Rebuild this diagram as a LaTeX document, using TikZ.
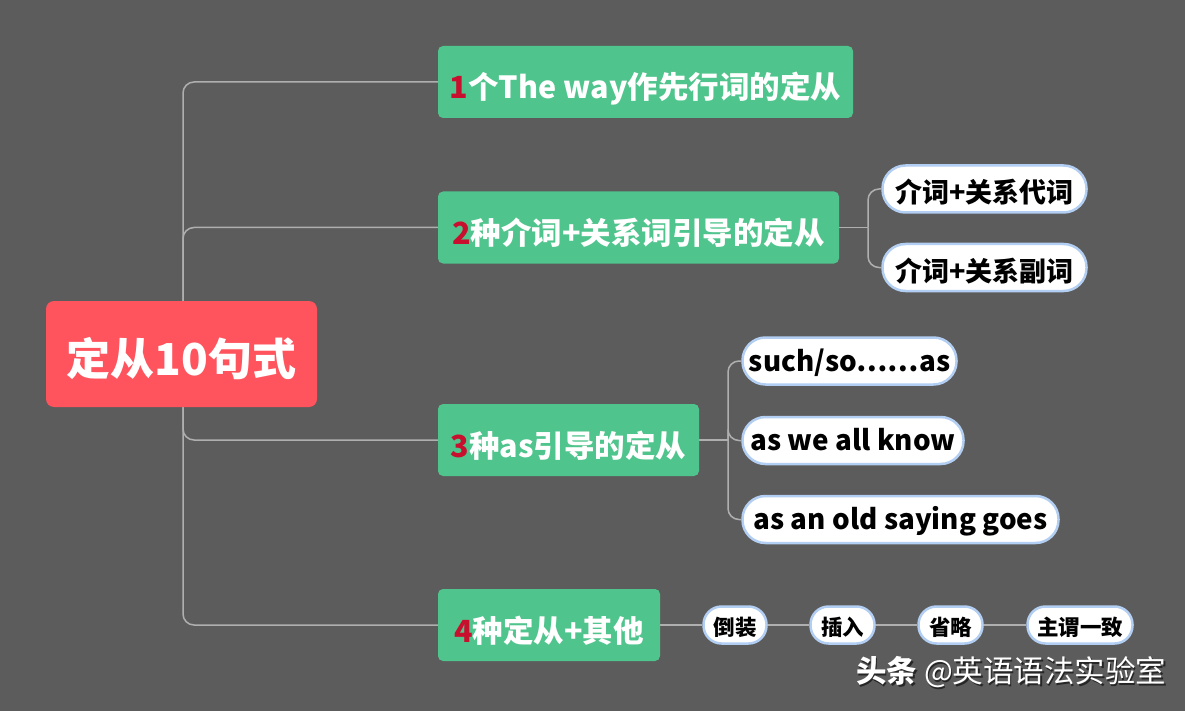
\documentclass[tikz,border=0pt]{standalone}
\usepackage{fontspec}
\setmainfont{Noto Sans CJK SC}
\usetikzlibrary{backgrounds}
\definecolor{bgc}{RGB}{92,92,92}
\definecolor{rootred}{RGB}{255,83,93}
\definecolor{boxgreen}{RGB}{80,196,141}
\definecolor{numred}{RGB}{200,16,46}
\definecolor{connc}{RGB}{175,175,175}
\definecolor{pillblue}{RGB}{178,206,242}
\tikzset{
  rootbox/.style={fill=rootred, rounded corners=8pt, text=white, font=\bfseries\fontsize{44}{44}\selectfont, minimum width=271pt, minimum height=106pt, inner sep=0pt, text height=43.4pt, text depth=0pt},
  greenbox/.style={fill=boxgreen, rounded corners=5pt, text=white, font=\bfseries\fontsize{30.5}{30}\selectfont, minimum height=72pt, inner sep=0pt, text height=34pt, text depth=0pt},
  pill/.style={fill=white, draw=pillblue, line width=2.5pt, rounded corners=23pt, text=black, font=\bfseries\fontsize{27}{27}\selectfont, minimum height=47pt, inner sep=0pt, text height=27.6pt, text depth=0pt},
  latinpill/.style={pill, font=\bfseries\fontsize{27.8}{28}\selectfont, text height=20pt},
  smallpill/.style={fill=white, draw=pillblue, line width=2.5pt, rounded corners=18pt, text=black, font=\bfseries\fontsize{21.5}{21}\selectfont, minimum height=37pt, inner sep=0pt, text height=21pt, text depth=0pt},
  conn/.style={draw=connc, line width=1.5pt, rounded corners=11pt}
}
\begin{document}
\begin{tikzpicture}[x=1pt,y=-1pt]
\begin{pgfonlayer}{background}
\fill[bgc] (0,0) rectangle (1185,711);
\end{pgfonlayer}
\useasboundingbox (0,0) rectangle (1185,711);

\node[rootbox] (root) at (181.5,354) {定从10句式};
\node[greenbox, minimum width=415pt] (g1) at (645.5,82) {\textcolor{numred}{1}个The way作先行词的定从};
\node[greenbox, minimum width=401pt] (g2) at (638.5,227.5) {\textcolor{numred}{2}种介词+关系词引导的定从};
\node[greenbox, minimum width=261pt] (g3) at (568.5,440) {\textcolor{numred}{3}种as引导的定从};
\node[greenbox, minimum width=222pt] (g4) at (549,625) {\textcolor{numred}{4}种定从+其他};

\node[pill, minimum width=204pt] (p1) at (984.5,189) {介词+关系代词};
\node[pill, minimum width=204pt] (p2) at (984.5,267.5) {介词+关系副词};

\node[latinpill, minimum width=214pt] (p3) at (849.5,361) {such/so……as};
\node[latinpill, minimum width=221pt] (p4) at (853,440.5) {as we all know};
\node[latinpill, minimum width=316pt] (p5) at (900.5,519.5) {as an old saying goes};

\node[smallpill, minimum width=63pt] (s1) at (735,625) {倒装};
\node[smallpill, minimum width=64pt] (s2) at (842.5,625) {插入};
\node[smallpill, minimum width=64pt] (s3) at (950.5,625) {省略};
\node[smallpill, minimum width=105pt] (s4) at (1080,625) {主谓一致};

\coordinate (sp) at (183,354);
\coordinate (b2) at (868,227.5);
\coordinate (b3) at (728,440);

\begin{pgfonlayer}{background}
\draw[conn] (sp) |- (g1);
\draw[conn] (sp) |- (g2);
\draw[conn] (sp) |- (g3);
\draw[conn] (sp) |- (g4);
\draw[conn] (g2) -- (b2);
\draw[conn] (b2) |- (p1);
\draw[conn] (b2) |- (p2);
\draw[conn] (g3) -- (b3);
\draw[conn] (b3) |- (p3);
\draw[conn] (b3) |- (p4);
\draw[conn] (b3) |- (p5);
\draw[conn] (g4) -- (s1) -- (s2) -- (s3) -- (s4);
\end{pgfonlayer}

\node[anchor=west, text=black!85, font=\fontsize{30.5}{30}\selectfont, inner sep=0pt] (wms) at (857.5,674) {\textbf{头条} @英语语法实验室};
\node[anchor=west, text=white, font=\fontsize{30.5}{30}\selectfont, inner sep=0pt] (wm) at (856,672.5) {\textbf{头条} @英语语法实验室};
\end{tikzpicture}
\end{document}
